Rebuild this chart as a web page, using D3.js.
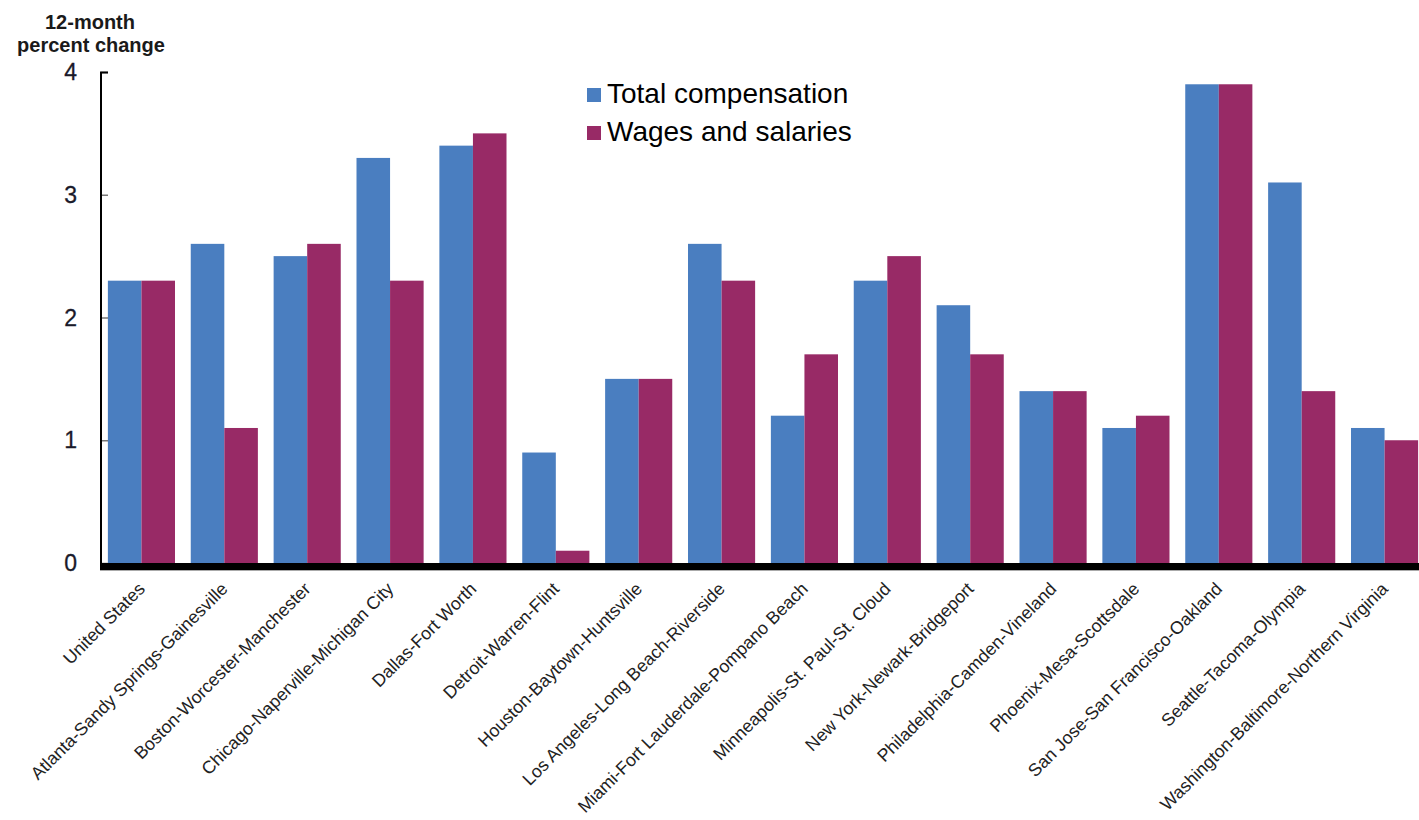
<!DOCTYPE html>
<html>
<head>
<meta charset="utf-8">
<script src="https://cdn.jsdelivr.net/npm/d3@7"></script>
<style>
  html, body { margin: 0; padding: 0; background: #fff; }
  svg { display: block; }
  text { font-family: "Liberation Sans", Arial, sans-serif; }
</style>
</head>
<body>
<svg id="chart" width="1419" height="820"></svg>
<script>
const categories = [
  "United States",
  "Atlanta-Sandy Springs-Gainesville",
  "Boston-Worcester-Manchester",
  "Chicago-Naperville-Michigan City",
  "Dallas-Fort Worth",
  "Detroit-Warren-Flint",
  "Houston-Baytown-Huntsville",
  "Los Angeles-Long Beach-Riverside",
  "Miami-Fort Lauderdale-Pompano Beach",
  "Minneapolis-St. Paul-St. Cloud",
  "New York-Newark-Bridgeport",
  "Philadelphia-Camden-Vineland",
  "Phoenix-Mesa-Scottsdale",
  "San Jose-San Francisco-Oakland",
  "Seattle-Tacoma-Olympia",
  "Washington-Baltimore-Northern Virginia"
];
const totalCompensation = [2.3, 2.6, 2.5, 3.3, 3.4, 0.9, 1.5, 2.6, 1.2, 2.3, 2.1, 1.4, 1.1, 3.9, 3.1, 1.1];
const wagesAndSalaries  = [2.3, 1.1, 2.6, 2.3, 3.5, 0.1, 1.5, 2.3, 1.7, 2.5, 1.7, 1.4, 1.2, 3.9, 1.4, 1.0];
const seriesNames = ["Total compensation", "Wages and salaries"];
const seriesColors = ["#4a7ec0", "#982a66"];
const yTicks = [0, 1, 2, 3, 4];

const svg = d3.select("#chart");
const plot = { left: 100, right: 1426, top: 72, bottom: 563 };

const x0 = d3.scaleBand()
  .domain(categories)
  .range([plot.left, plot.right])
  .paddingInner(0.19)
  .paddingOuter(0.095);

const x1 = d3.scaleBand()
  .domain(seriesNames)
  .range([0, x0.bandwidth()])
  .padding(0);

const y = d3.scaleLinear().domain([0, 4]).range([plot.bottom, plot.top]);

const rows = categories.map((c, i) => ({
  cat: c,
  vals: [totalCompensation[i], wagesAndSalaries[i]]
}));

// bars
const g = svg.append("g");
const groups = g.selectAll("g.grp").data(rows).join("g")
  .attr("class", "grp")
  .attr("transform", d => `translate(${x0(d.cat)},0)`);
groups.selectAll("rect").data(d => d.vals.map((v, j) => ({ v, s: seriesNames[j], j })))
  .join("rect")
  .attr("x", d => x1(d.s))
  .attr("y", d => y(d.v))
  .attr("width", x1.bandwidth())
  .attr("height", d => y(0) - y(d.v))
  .attr("fill", d => seriesColors[d.j]);

// y axis
const yAxis = d3.axisRight(y).tickValues(yTicks).tickSize(7).tickFormat("");
const ya = svg.append("g").attr("transform", `translate(${plot.left + 1},0)`).call(yAxis);
ya.select(".domain").remove();
ya.selectAll(".tick line").attr("stroke", "#777").attr("stroke-width", 1.5);
svg.append("line")
  .attr("x1", plot.left + 1).attr("x2", plot.left + 1)
  .attr("y1", y(4)).attr("y2", plot.bottom + 7)
  .attr("stroke", "#000").attr("stroke-width", 2);
svg.append("line")
  .attr("x1", plot.left).attr("x2", plot.left + 8)
  .attr("y1", y(4) + 0.5).attr("y2", y(4) + 0.5)
  .attr("stroke", "#000").attr("stroke-width", 2);

// y tick labels
svg.append("g").selectAll("text").data(yTicks).join("text")
  .attr("x", 77)
  .attr("y", d => y(d) + 8)
  .attr("text-anchor", "end")
  .attr("font-size", 23)
  .attr("fill", "#1a1a2a")
  .attr("stroke", "#1a1a2a").attr("stroke-width", 0.3)
  .text(d => d);

// baseline
svg.append("rect")
  .attr("x", plot.left).attr("y", plot.bottom)
  .attr("width", 1419 - plot.left).attr("height", 7)
  .attr("fill", "#000");
svg.append("line")
  .attr("x1", plot.left).attr("x2", 1419)
  .attr("y1", plot.bottom + 7.5).attr("y2", plot.bottom + 7.5)
  .attr("stroke", "#aaa").attr("stroke-width", 1);

// x labels
svg.append("g").selectAll("text").data(categories).join("text")
  .attr("transform", d => `translate(${x0(d) + x0.bandwidth() / 2 + 4.5},590) rotate(-45)`)
  .attr("text-anchor", "end")
  .attr("font-size", 17.8)
  .attr("fill", "#222")
  .text(d => d);

// y axis title
const title = svg.append("text")
  .attr("text-anchor", "middle")
  .attr("font-size", 20)
  .attr("font-weight", "bold")
  .attr("fill", "#1a1a1a");
title.append("tspan").attr("x", 90).attr("y", 29).text("12-month");
title.append("tspan").attr("x", 91).attr("y", 52).text("percent change");

// legend
const legend = svg.append("g");
const lg = legend.selectAll("g").data(seriesNames).join("g")
  .attr("transform", (d, i) => `translate(587,${88 + i * 38})`);
lg.append("rect").attr("width", 14).attr("height", 14).attr("fill", (d, i) => seriesColors[i]);
lg.append("text")
  .attr("x", 20).attr("y", 15)
  .attr("font-size", 28)
  .attr("fill", "#000")
  .text(d => d);
</script>
</body>
</html>
